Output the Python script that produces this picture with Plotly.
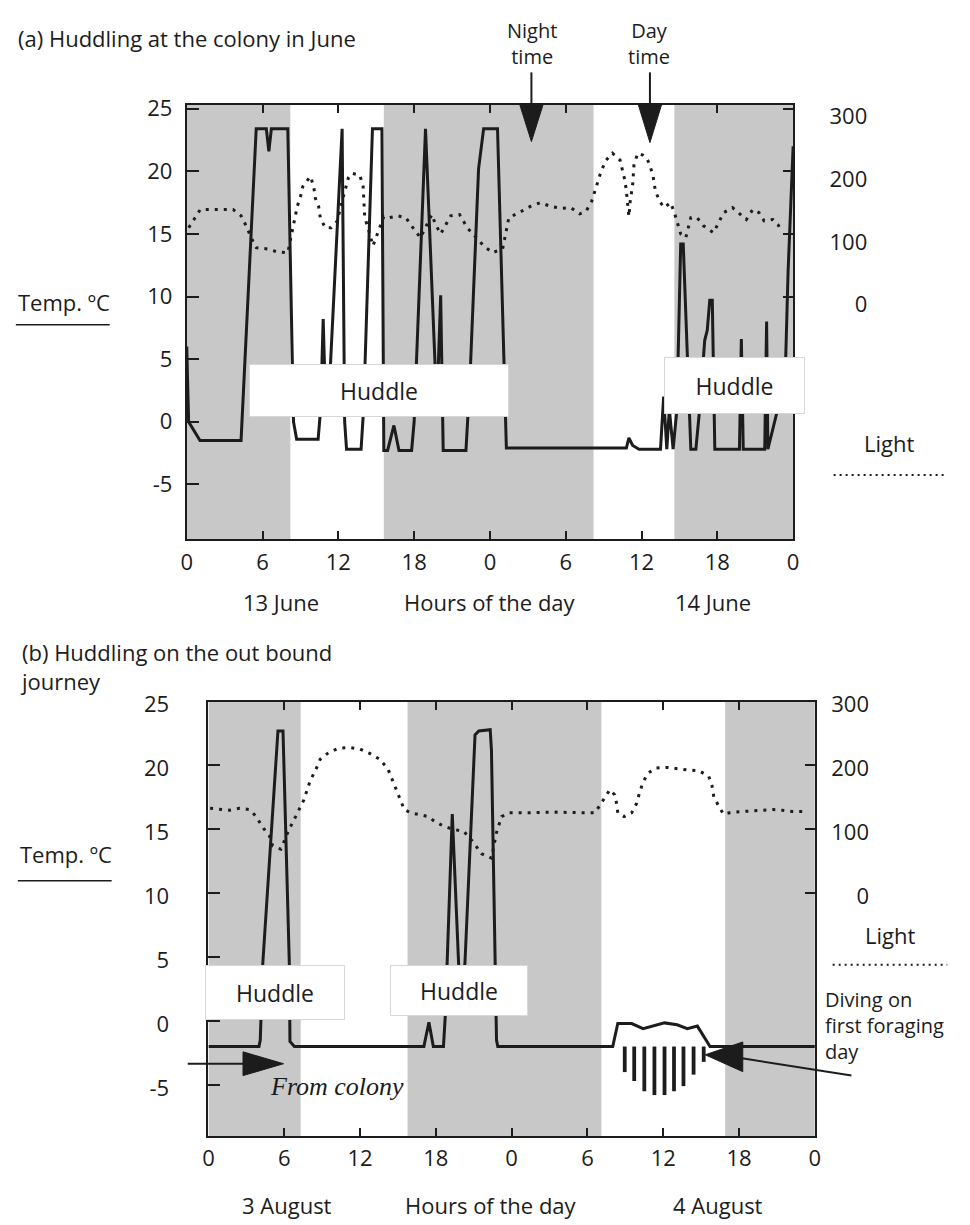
import plotly.graph_objects as go

W, H = 970, 1225

# ---------------- data: panel (a) 13-14 June (hours from start of 13 June) ----------------
a_temp_hours = [0.0, 0.15, 1.05, 4.3, 5.5, 6.3, 6.5, 6.7, 8.0, 8.45, 8.7, 10.4, 10.6, 10.8, 11.0,
                11.3, 12.3, 12.5, 12.65, 13.8, 14.0, 14.7, 15.45, 15.6, 15.9, 16.4, 16.8, 17.8, 18.0,
                18.9, 19.8, 20.1, 20.3, 22.1, 22.4, 23.1, 23.5, 24.6, 25.3, 34.8, 35.0, 35.3, 35.8,
                37.5, 37.75, 38.0, 38.2, 38.5, 38.8, 39.1, 39.3, 39.9, 40.3, 40.6, 41.0, 41.2, 41.4,
                41.6, 41.8, 43.75, 43.9, 44.05, 45.75, 45.9, 46.0, 46.9, 47.3, 47.6, 48.0]
a_temp_values = [6.0, 0.0, -1.5, -1.5, 23.4, 23.4, 21.6, 23.4, 23.4, 0.0, -1.4, -1.4, 1.0, 8.2, 1.0,
                 3.0, 23.4, 0.0, -2.2, -2.2, 1.0, 23.4, 23.4, -2.3, -2.3, -0.3, -2.3, -2.3, 0.0,
                 23.4, 1.0, 10.1, -2.3, -2.3, 3.0, 20.2, 23.4, 23.4, -2.1, -2.1, -1.3, -1.9, -2.2,
                 -2.2, 2.0, -2.2, 1.0, -2.2, 1.0, 14.2, 14.2, -2.2, -2.2, 1.0, 6.5, 7.3, 9.7,
                 9.7, -2.2, -2.2, 6.6, -2.2, -2.2, 8.0, -2.2, 1.5, 1.0, 12.0, 22.0]
a_light_hours = [0.16, 0.68, 1.07, 1.7, 2.4, 3.0, 3.67, 4.3, 4.7, 5.1, 5.5, 6.4, 7.2, 8.0, 8.49,
                 8.75, 9.01, 9.19, 9.79, 10.05, 10.18, 10.44, 10.57, 10.96, 11.43, 11.9, 12.4, 12.8,
                 13.05, 13.7, 13.96, 14.03, 14.09, 14.35, 14.74, 15.6, 16.04, 16.7, 17.34, 17.9,
                 18.5, 19.4, 19.7, 20.1, 20.9, 21.6, 22.2, 23.5, 24.2, 25.0, 25.5, 26.3, 27.2, 28.0,
                 28.8, 29.6, 30.4, 31.1, 31.6, 32.05, 32.3, 32.6, 32.8, 33.2, 33.7, 34.3, 34.5, 34.7,
                 34.8, 34.9, 35.0, 35.1, 35.3, 35.4, 35.7, 36.1, 36.4, 36.6, 36.9, 37.1, 37.5, 37.8,
                 38.3, 38.6, 39.1, 39.5, 39.9, 40.4, 40.9, 41.7, 42.1, 42.5, 43.2, 43.8, 44.3, 44.8,
                 45.3, 45.7, 46.4, 46.8, 47.0]
a_light_values = [110, 126, 139, 139, 139, 139, 139, 129, 113, 94, 78, 76, 71, 70, 115,
                  144, 160, 176, 192, 176, 157, 144, 126, 110, 110, 120, 160, 190,
                  197, 194, 176, 144, 126, 110, 81, 128, 126, 129, 126, 110,
                  94, 131, 115, 100, 129, 131, 110, 81, 70, 76, 126, 134, 144, 150,
                  144, 141, 142, 132, 136, 152, 168, 184, 200, 218, 229, 218, 200, 184,
                  168, 142, 128, 152, 179, 210, 229, 226, 221, 213, 194, 168, 150, 142,
                  150, 134, 100, 94, 126, 126, 113, 102, 118, 134, 142, 131, 123, 139,
                  134, 121, 123, 115, 107]
a_night_start = [0.0, 15.6, 38.6]
a_night_end = [8.2, 32.2, 48.0]

# ---------------- data: panel (b) 3-4 August ----------------
b_temp_hours = [0.0, 4.0, 4.1, 4.3, 5.5, 5.9, 6.4, 6.45, 6.8, 17.05, 17.45, 17.8, 18.6, 18.75,
                19.3, 19.8, 20.05, 20.3, 21.1, 21.4, 22.3, 22.4, 22.8, 22.9, 32.0, 32.4, 33.5,
                34.4, 36.1, 37.1, 37.9, 38.7, 39.7, 48.0]
b_temp_values = [-2.0, -2.0, -1.5, 4.5, 22.7, 22.7, 4.5, -1.6, -2.0, -2.0, -0.1, -2.0, -2.0, 0.5,
                 16.2, 4.5, 2.0, 4.5, 22.4, 22.7, 22.8, 21.2, -1.5, -2.0, -2.0, -0.2, -0.2,
                 -0.6, -0.15, -0.3, -0.6, -0.4, -2.0, -2.0]
b_light_hours = [0.13, 0.91, 1.69, 2.47, 3.26, 3.78, 4.3, 4.82, 5.08, 5.73, 6.38, 6.77, 7.16, 7.55,
                 7.81, 8.07, 8.46, 8.85, 9.5, 10.29, 11.2, 11.98, 12.76, 13.54, 14.2, 14.58, 14.97,
                 15.5, 16.0, 16.8, 17.4, 17.8, 18.6, 19.4, 20.2, 20.96, 21.6, 22.4, 22.8, 23.2,
                 23.8, 25.5, 27.5, 29.5, 30.6, 31.25, 31.77, 32.16, 32.3, 32.4, 32.9, 33.5, 33.9,
                 34.1, 34.4, 34.8, 35.4, 36.3, 37.1, 37.9, 38.8, 39.6, 39.85, 40.0, 40.4, 40.76,
                 41.5, 42.3, 43.1, 43.9, 44.7, 45.4, 46.2, 47.1]
b_light_values = [133, 131, 130, 133, 131, 120, 103, 90, 74, 69, 100, 115, 131, 146,
                  162, 177, 192, 210, 220, 227, 228, 226, 219, 210, 195, 177, 159,
                  131, 126, 123, 120, 114, 105, 100, 97, 80, 62, 55, 95, 120,
                  126, 126, 127, 126, 126, 146, 162, 154, 141, 126, 120, 126, 141,
                  156, 174, 188, 196, 197, 195, 193, 192, 183, 169, 151, 136, 124,
                  127, 128, 130, 131, 131, 130, 128, 128]
b_dive_hours = [32.95, 33.7, 34.5, 35.3, 36.1, 36.85, 37.6, 38.4, 39.2]
b_dive_bottom = [-4.0, -4.7, -5.5, -5.8, -5.8, -5.5, -5.1, -4.2, -3.2]
b_dive_surface = -2.0
b_night_start = [0.0, 15.76, 40.9]
b_night_end = [7.3, 31.1, 48.0]

# ---------------- ticks ----------------
hour_ticks = [0, 6, 12, 18, 24, 30, 36, 42, 48]
hour_labels = ["0", "6", "12", "18", "0", "6", "12", "18", "0"]
temp_ticks = [-5, 0, 5, 10, 15, 20, 25]
temp_labels = ["-5", "0", "5", "10", "15", "20", "25"]
light_ticks = [0, 100, 200, 300]
light_labels = ["\u2007\u20070", "100", "200", "300"]
LIGHT_ZERO_TEMP = 10.0   # light 0 sits at 10 degC
LIGHT_PER_DEG = 20.0     # 100 light units per 5 degC

a_yrange = [-9.4, 25.3]
b_yrange = [-9.0, 25.0]

FONT = "Open Sans"
INK = "#1c1c1c"
SHADE = "#c8c8c8"


def px(x):
    return x / W


def py(y):
    return 1 - y / H


fig = go.Figure()
line_style = dict(color=INK, width=3)
dot_style = dict(color=INK, width=3, dash="3px,6px")

fig.add_trace(go.Scatter(x=a_temp_hours, y=a_temp_values, mode="lines", line=line_style,
                         xaxis="x", yaxis="y", hoverinfo="skip"))
fig.add_trace(go.Scatter(x=a_light_hours, y=a_light_values, mode="lines", line=dot_style,
                         xaxis="x", yaxis="y2", hoverinfo="skip"))
fig.add_trace(go.Bar(x=b_dive_hours, y=[b - b_dive_surface for b in b_dive_bottom],
                     base=b_dive_surface, width=0.3, marker=dict(color=INK, line=dict(width=0)),
                     xaxis="x2", yaxis="y3", hoverinfo="skip"))
fig.add_trace(go.Scatter(x=b_temp_hours, y=b_temp_values, mode="lines", line=line_style,
                         xaxis="x2", yaxis="y3", hoverinfo="skip"))
fig.add_trace(go.Scatter(x=b_light_hours, y=b_light_values, mode="lines", line=dot_style,
                         xaxis="x2", yaxis="y4", hoverinfo="skip"))

tickfont = dict(family=FONT, size=22, color=INK)


def xax(domain, anchor):
    return dict(domain=domain, anchor=anchor, range=[0, 48], tickmode="array",
                tickvals=hour_ticks, ticktext=hour_labels, ticks="inside", ticklen=8,
                tickwidth=2, tickcolor=INK, showline=True, linecolor=INK, linewidth=2,
                mirror="ticks", showgrid=False, zeroline=False, tickfont=tickfont,
                ticklabelstandoff=2)


def yax(domain, anchor, rng, standoff, shift):
    return dict(domain=domain, anchor=anchor, range=rng, tickmode="array",
                tickvals=temp_ticks, ticktext=temp_labels, ticks="inside", ticklen=12,
                tickwidth=2, tickcolor=INK, showline=True, linecolor=INK, linewidth=2,
                showgrid=False, zeroline=False, tickfont=tickfont,
                ticklabelstandoff=standoff, ticklabelshift=shift)


def lax(over, anchor, rng, standoff, shift):
    return dict(overlaying=over, anchor=anchor, side="right",
                range=[(r - LIGHT_ZERO_TEMP) * LIGHT_PER_DEG for r in rng],
                tickmode="array", tickvals=light_ticks, ticktext=light_labels,
                ticks="inside", ticklen=10, tickwidth=2, tickcolor=INK, showline=True,
                linecolor=INK, linewidth=2, showgrid=False, zeroline=False,
                tickfont=tickfont, ticklabelstandoff=standoff, ticklabelshift=shift)


a_ydom = [py(532), py(93)]
b_ydom = [py(1135), py(696)]

shapes = []
for s, e in zip(a_night_start, a_night_end):
    shapes.append(dict(type="rect", xref="x", yref="y domain", x0=s, x1=e, y0=0, y1=1,
                       fillcolor=SHADE, line=dict(width=0), layer="below"))
for s, e in zip(b_night_start, b_night_end):
    shapes.append(dict(type="rect", xref="x2", yref="y3 domain", x0=s, x1=e, y0=0, y1=1,
                       fillcolor=SHADE, line=dict(width=0), layer="below"))


def pline(x0, y0, x1, y1, width=2, dash=None):
    d = dict(type="line", xref="paper", yref="paper", x0=px(x0), y0=py(y0), x1=px(x1),
             y1=py(y1), line=dict(color=INK, width=width), layer="above")
    if dash:
        d["line"]["dash"] = dash
    return d


def ptri(points):
    path = "M " + " L ".join(f"{px(x):.5f},{py(y):.5f}" for x, y in points) + " Z"
    return dict(type="path", xref="paper", yref="paper", path=path, fillcolor=INK,
                line=dict(color=INK, width=1), layer="above")


# Night / Day arrows
shapes.append(pline(532, 60, 532, 95, 2))
shapes.append(ptri([(520, 92), (544, 92), (532, 130)]))
shapes.append(pline(652, 60, 652, 95, 2))
shapes.append(ptri([(640, 92), (664, 92), (652, 131)]))
# From colony arrow
shapes.append(pline(184, 1062, 245, 1062, 2))
shapes.append(ptri([(240, 1050), (281, 1062), (240, 1074)]))
# Diving arrow
shapes.append(pline(856, 1074, 742, 1056, 2))
shapes.append(ptri([(746, 1040), (708, 1053), (746, 1070)]))
# Temp underlines
shapes.append(pline(10, 315, 105, 315, 1.5))
shapes.append(pline(12, 877, 107, 877, 1.5))
# Light legend dotted lines
shapes.append(pline(838, 467, 953, 467, 2, "2px,4px"))
shapes.append(pline(837, 962, 953, 962, 2, "2px,4px"))

annotations = []


def txt(x, y, text, size=22, xanchor="center", family=FONT, yanchor="middle", align="left"):
    annotations.append(dict(xref="paper", yref="paper", x=px(x), y=py(y), text=text,
                            showarrow=False, xanchor=xanchor, yanchor=yanchor, align=align,
                            font=dict(family=family, size=size, color=INK)))


def huddle(x0, x1, y0, y1):
    annotations.append(dict(xref="paper", yref="paper", x=px((x0 + x1) / 2),
                            y=py((y0 + y1) / 2), text="Huddle", showarrow=False,
                            xanchor="center", yanchor="middle", width=x1 - x0 - 2,
                            height=y1 - y0 - 2, bgcolor="white", bordercolor="#d8d8d8",
                            borderwidth=1, borderpad=0,
                            font=dict(family=FONT, size=23, color=INK)))


huddle(248, 508, 355, 408)
huddle(667, 808, 348, 405)
huddle(202, 342, 963, 1018)
huddle(390, 528, 962, 1013)

txt(10, 25, "(a) Huddling at the colony in June", xanchor="left")
txt(533, 31, "Night<br>time", 20, align="center")
txt(651, 31, "Day<br>time", 20, align="center")
txt(10, 292, "Temp. ºC", xanchor="left")
txt(894, 435, "Light")
txt(278, 595, "13 June")
txt(490, 595, "Hours of the day")
txt(716, 595, "14 June")

txt(12, 661, "(b) Huddling on the out bound<br>journey", xanchor="left")
txt(12, 850, "Temp. ºC", xanchor="left")
txt(895, 932, "Light")
txt(827, 1023, "Diving on<br>first foraging<br>day", 20, xanchor="left")
txt(335, 1085, "<i>From colony</i>", 26, family="Liberation Serif")
txt(285, 1205, "3 August")
txt(491, 1205, "Hours of the day")
txt(721, 1205, "4 August")

fig.update_layout(
    width=W, height=H, margin=dict(l=0, r=0, t=0, b=0),
    paper_bgcolor="white", plot_bgcolor="white", showlegend=False,
    xaxis=xax([px(183), px(797)], "y"),
    yaxis=yax(a_ydom, "x", a_yrange, 8, 0),
    yaxis2=lax("y", "x", a_yrange, 30, 8),
    xaxis2=xax([px(205), px(819)], "y3"),
    yaxis3=yax(b_ydom, "x2", b_yrange, 33, 3),
    yaxis4=lax("y3", "x2", b_yrange, 10, 3),
    shapes=shapes, annotations=annotations,
)

fig.write_html("out.html")
